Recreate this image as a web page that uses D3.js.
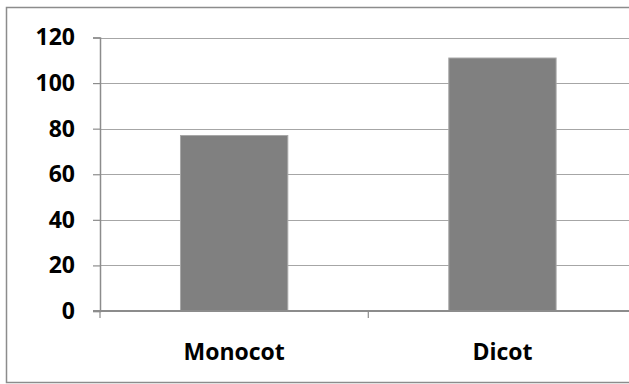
<!DOCTYPE html>
<html><head><meta charset="utf-8">
<script src="https://cdn.jsdelivr.net/npm/d3@7"></script>
<style>body{margin:0;background:#fff}svg{display:block}</style>
</head><body>
<script>
const categories = ["Monocot", "Dicot"];
const values = [77, 111];
const yTicks = [0, 20, 40, 60, 80, 100, 120];

const W = 629, H = 384;
const svg = d3.select("body").append("svg").attr("width", W).attr("height", H);
svg.append("rect").attr("width", W).attr("height", H).attr("fill", "#fff");
svg.append("rect").attr("x", 6.5).attr("y", 7.5).attr("width", 640).attr("height", 375)
  .attr("fill", "none").attr("stroke", "#8c8c8c").attr("stroke-width", 1.5);

const x0 = 100, x1 = 636.6, yTop = 37.5, yBot = 311;
const x = d3.scaleBand().domain(categories).range([x0, x1]).paddingInner(0.6).paddingOuter(0.3);
const y = d3.scaleLinear().domain([0, 120]).range([yBot, yTop]);

const font = "'Open Sans', sans-serif";
const fs = 23;

// gridlines
svg.append("g").selectAll("line").data(yTicks.filter(d => d > 0)).join("line")
  .attr("x1", x0).attr("x2", x1).attr("y1", d => Math.round(y(d)) + 0.5).attr("y2", d => Math.round(y(d)) + 0.5)
  .attr("stroke", "#a6a6a6").attr("stroke-width", 1.2);

// bars
svg.append("g").selectAll("rect").data(categories).join("rect")
  .attr("x", d => x(d)).attr("width", x.bandwidth())
  .attr("y", (d, i) => y(values[i])).attr("height", (d, i) => yBot - y(values[i]))
  .attr("fill", "#808080").attr("stroke", "#a8a8a8").attr("stroke-width", 1);

// y axis
const yAxis = d3.axisLeft(y).tickValues(yTicks).tickSize(7).tickPadding(18);
const gy = svg.append("g").attr("transform", `translate(${x0},0)`).call(yAxis);
gy.select(".domain").attr("stroke", "#8c8c8c").attr("stroke-width", 1.5);
gy.selectAll(".tick line").attr("stroke", "#8c8c8c").attr("stroke-width", 1.2);
gy.selectAll(".tick text").attr("font-family", font).attr("font-weight", "bold")
  .attr("font-size", fs).attr("fill", "#000");

// x axis
const xLin = d3.scaleLinear().domain([0, 2]).range([x0, x1]);
const gx = svg.append("g").attr("transform", `translate(0,${yBot})`);
gx.append("line").attr("x1", x0 - 7).attr("x2", x1).attr("stroke", "#8c8c8c").attr("stroke-width", 2);
gx.selectAll("line.t").data([0, 1, 2]).join("line").attr("class", "t")
  .attr("x1", d => xLin(d)).attr("x2", d => xLin(d)).attr("y1", 0).attr("y2", 7)
  .attr("stroke", "#8c8c8c").attr("stroke-width", 1.2);
gx.selectAll("text").data(categories).join("text")
  .attr("x", d => x(d) + x.bandwidth() / 2).attr("y", 49)
  .attr("text-anchor", "middle").attr("font-family", font).attr("font-weight", "bold")
  .attr("font-size", fs).attr("fill", "#000").text(d => d);
</script>
</body></html>
